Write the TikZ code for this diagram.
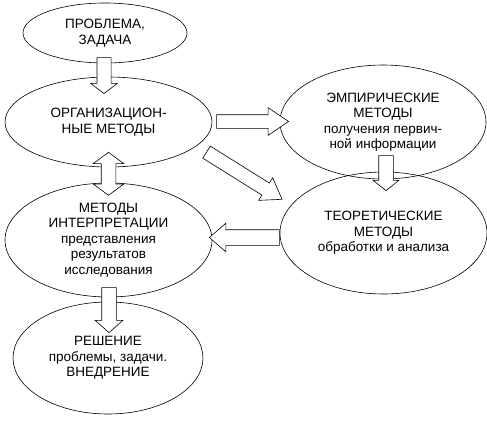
\documentclass[tikz,border=0pt]{standalone}
\usepackage{fontspec}
\setmainfont{Liberation Sans}
\usetikzlibrary{shapes.geometric,shapes.arrows}
\begin{document}
\begin{tikzpicture}[x=1pt,y=-1pt]
\useasboundingbox (0,0) rectangle (487,421);
\tikzstyle{stagenode} = [ellipse,draw=black,line width=0.6pt,inner sep=0pt,align=center,font=\fontsize{13.5}{15.5}\selectfont]
\tikzstyle{blockarrow} = [single arrow,draw=black,fill=white,line width=0.6pt,inner xsep=0pt,anchor=tail]
%%%%%%%%%%%%%%%%%%%%%%%%%%%%%
% left column
%%%%%%%%%%%%%%%%%%%%%%%%%%%%%
\node [stagenode,minimum width=164pt,minimum height=60pt] (prob) at (105,33){ПРОБЛЕМА,\\ЗАДАЧА};
\node [stagenode,minimum width=207pt,minimum height=90pt] (org) at (108.5,122){ОРГАНИЗАЦИОН-\\НЫЕ МЕТОДЫ};
\node [stagenode,minimum width=207pt,minimum height=114pt] (interp) at (108.5,240){МЕТОДЫ\\ИНТЕРПРЕТАЦИИ\\представления\\результатов\\исследования};
\node [stagenode,minimum width=190pt,minimum height=112pt] (resh) at (108,358){РЕШЕНИЕ\\проблемы, задачи.\\ВНЕДРЕНИЕ};
%%%%%%%%%%%%%%%%%%%%%%%%%%%%%
% right column
%%%%%%%%%%%%%%%%%%%%%%%%%%%%%
\node [stagenode,minimum width=206pt,minimum height=114pt] (emp) at (383,122){ЭМПИРИЧЕСКИЕ\\МЕТОДЫ\\получения первич-\\ной информации};
\node [stagenode,minimum width=207pt,minimum height=122pt] (teor) at (383.5,233){ТЕОРЕТИЧЕСКИЕ\\МЕТОДЫ\\обработки и анализа};
%%%%%%%%%%%%%%%%%%%%%%%%%%%%%
% block arrows
%%%%%%%%%%%%%%%%%%%%%%%%%%%%%
\node [blockarrow,rotate=-90,minimum height=36pt,inner ysep=6.75pt,single arrow head extend=6.25pt,single arrow tip angle=105] (a1) at ([xshift=-1pt,yshift=6pt]prob.south){};
\node [double arrow,draw=black,fill=white,line width=0.6pt,inner xsep=0pt,rotate=90,minimum height=43pt,inner ysep=7pt,double arrow head extend=8pt,double arrow tip angle=107] (a2) at ([yshift=-6.5pt]org.south){};
\node [blockarrow,rotate=-90,minimum height=45pt,inner ysep=7pt,single arrow head extend=6.5pt,single arrow tip angle=97] (a3) at ([xshift=0.5pt,yshift=10pt]interp.south){};
\node [blockarrow,minimum height=72pt,inner ysep=6.5pt,single arrow head extend=7pt,single arrow tip angle=68] (a4) at ([xshift=4pt,yshift=0.5pt]org.east){};
\node [blockarrow,rotate=-32,minimum height=89pt,inner ysep=6.8pt,single arrow head extend=6.2pt,single arrow tip angle=69] (a5) at ([xshift=-6pt,yshift=-30pt]org.east){};
\node [blockarrow,rotate=180,minimum height=70pt,inner ysep=7.5pt,single arrow head extend=6.5pt,single arrow tip angle=82] (a6) at ([yshift=-4.5pt]teor.west){};
\node [blockarrow,rotate=-90,minimum height=35pt,inner ysep=7pt,single arrow head extend=5.5pt,single arrow tip angle=103] (a7) at ([xshift=3pt,yshift=24pt]emp.south){};
\end{tikzpicture}
\end{document}
